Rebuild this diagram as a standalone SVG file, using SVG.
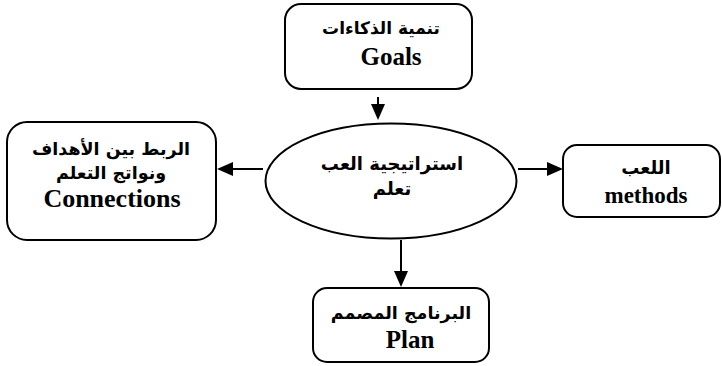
<svg xmlns="http://www.w3.org/2000/svg" width="722" height="366" viewBox="0 0 722 366">
<style>
.box{fill:#fff;stroke:#000;stroke-width:2}
.ell{fill:#fff;stroke:#000;stroke-width:2}
.ar{font-family:"DejaVu Sans",sans-serif;font-weight:bold;text-anchor:middle;fill:#000}
.en{font-family:"Liberation Serif","Times New Roman",serif;font-weight:bold;text-anchor:middle;fill:#000}
.con{stroke:#000;stroke-width:2;fill:none}
</style>
<defs>
<marker id="ah" markerUnits="userSpaceOnUse" markerWidth="16" markerHeight="14" refX="12" refY="7" orient="auto">
<path d="M0,0 L16,7 L0,14 z" fill="#000"/>
</marker>
</defs>
<rect width="722" height="366" fill="#fff"/>
<g id="connectors">
<line class="con" x1="378" y1="97" x2="378" y2="116" marker-end="url(#ah)"/>
<line class="con" x1="263" y1="169" x2="221" y2="169" marker-end="url(#ah)"/>
<line class="con" x1="518" y1="169" x2="559" y2="169" marker-end="url(#ah)"/>
<line class="con" x1="401" y1="240" x2="401" y2="283" marker-end="url(#ah)"/>
</g>
<g id="goals">
<rect class="box" x="285" y="4" width="187" height="85" rx="16"/>
<text class="ar" x="381" y="34" font-size="17">تنمية الذكاءات</text>
<text class="en" x="391" y="65" font-size="25">Goals</text>
</g>
<g id="strategy">
<ellipse class="ell" cx="391" cy="181" rx="125.5" ry="57.5"/>
<text class="ar" x="392" y="170" font-size="18">استراتيجية العب</text>
<text class="ar" x="392" y="195" font-size="18">تعلم</text>
</g>
<g id="connections">
<rect class="box" x="7" y="122" width="209" height="118" rx="20"/>
<text class="ar" x="111" y="155" font-size="17.5">الربط بين الأهداف</text>
<text class="ar" x="111" y="179" font-size="17.5">ونواتج التعلم</text>
<text class="en" x="112" y="207" font-size="26">Connections</text>
</g>
<g id="methods">
<rect class="box" x="563" y="145" width="157" height="72" rx="14"/>
<text class="ar" x="646" y="174" font-size="18">اللعب</text>
<text class="en" x="646" y="203" font-size="23">methods</text>
</g>
<g id="plan">
<rect class="box" x="313" y="288" width="176" height="74" rx="14"/>
<text class="ar" x="401" y="319" font-size="17.5">البرنامج المصمم</text>
<text class="en" x="410" y="348" font-size="25">Plan</text>
</g>
</svg>
